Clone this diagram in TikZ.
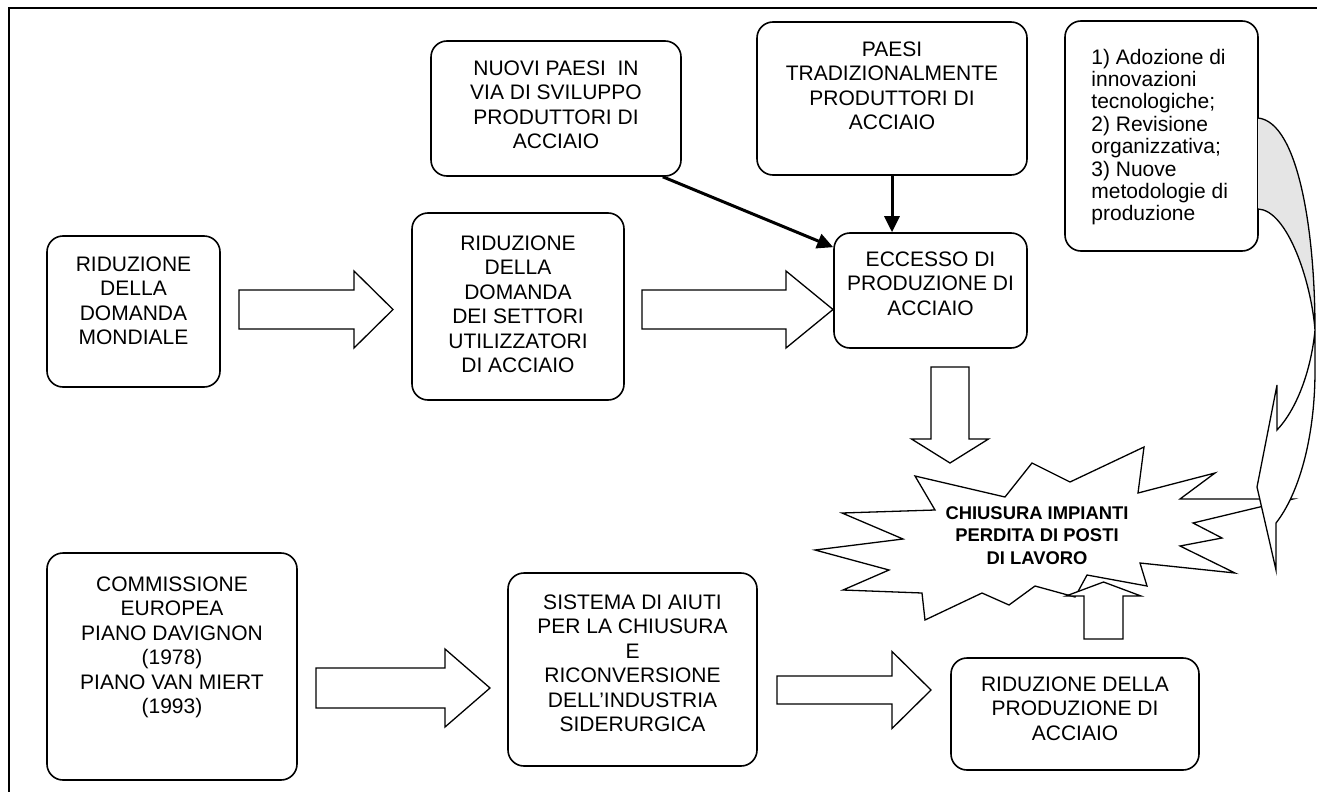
\documentclass[tikz,border=0pt]{standalone}
\usepackage{fontspec}
\setmainfont{Liberation Sans}
\usetikzlibrary{arrows.meta}
\usetikzlibrary{calc}

\tikzset{
  box/.style={draw, line width=1.6pt, rounded corners=16pt, inner sep=0pt},
  boxtext/.style={inner sep=0pt, align=center, font=\fontsize{21}{24.4}\selectfont},
  block/.style={draw, line width=1.3pt, fill=white, line join=miter},
  conn/.style={line width=3pt, -{Triangle[length=16pt,width=15pt]}},
}

% horizontal block arrow: start, head base, tip, centre y, half shaft, half head
\newcommand{\rblock}[6]{\draw[block] (#1,{#4-#5}) -- (#2,{#4-#5}) -- (#2,{#4-#6}) -- (#3,#4)
  -- (#2,{#4+#6}) -- (#2,{#4+#5}) -- (#1,{#4+#5}) -- cycle;}
% vertical block arrow: start, head base, tip, centre x, half shaft, half head
\newcommand{\vblock}[6]{\draw[block] ({#4-#5},#1) -- ({#4-#5},#2) -- ({#4-#6},#2) -- (#4,#3)
  -- ({#4+#6},#2) -- ({#4+#5},#2) -- ({#4+#5},#1) -- cycle;}

\begin{document}
\begin{tikzpicture}[x=1pt,y=-1pt]
  \useasboundingbox (0,0) rectangle (1317,792);
  \draw[line width=2pt] (9,792) -- (9,8) -- (1317,8);

  \node[box, minimum width=173pt, minimum height=151pt] (mondiale) at (133.5,311.5) {};
  \node[box, minimum width=212pt, minimum height=187pt] (settori) at (518,306.5) {};
  \node[box, minimum width=250pt, minimum height=135pt] (nuovi) at (556,108.5) {};
  \node[box, minimum width=270pt, minimum height=153pt] (tradiz) at (892,98.5) {};
  \node[box, minimum width=193pt, minimum height=115pt] (eccesso) at (930.5,290.5) {};
  \node[box, minimum width=193pt, minimum height=230pt] (misure) at (1161.5,136) {};
  \node[box, minimum width=250pt, minimum height=227pt] (commissione) at (172,666.5) {};
  \node[box, minimum width=249pt, minimum height=193pt] (aiuti) at (632.5,669.5) {};
  \node[box, minimum width=248pt, minimum height=112pt] (riduzprod) at (1075,714) {};

  \node[boxtext, anchor=north] (mondialetxt) at ($(mondiale.north)+(0,21.5)$)
    {RIDUZIONE\\DELLA\\DOMANDA\\MONDIALE};
  \node[boxtext, anchor=north] (settoritxt) at ($(settori.north)+(0,23.5)$)
    {RIDUZIONE\\DELLA\\DOMANDA\\DEI SETTORI\\UTILIZZATORI\\DI ACCIAIO};
  \node[boxtext, anchor=north] (nuovitxt) at ($(nuovi.north)+(0,20.5)$)
    {NUOVI PAESI \ IN\\VIA DI SVILUPPO\\PRODUTTORI DI\\ACCIAIO};
  \node[boxtext, anchor=north] (tradiztxt) at ($(tradiz.north)+(0,20.5)$)
    {PAESI\\TRADIZIONALMENTE\\PRODUTTORI DI\\ACCIAIO};
  \node[boxtext, anchor=north] (eccessotxt) at ($(eccesso.north)+(0,19.5)$)
    {ECCESSO DI\\PRODUZIONE DI\\ACCIAIO};
  \node[boxtext, align=left, anchor=north west, font=\fontsize{21}{22.4}\selectfont] (misuretxt)
    at ($(misure.north west)+(27,28.5)$)
    {1) Adozione di\\innovazioni\\tecnologiche;\\2) Revisione\\organizzativa;\\3) Nuove\\metodologie di\\produzione};
  \node[boxtext, anchor=north] (commissionetxt) at ($(commissione.north)+(0,24.5)$)
    {COMMISSIONE\\EUROPEA\\PIANO DAVIGNON\\(1978)\\PIANO VAN MIERT\\(1993)};
  \node[boxtext, anchor=north] (aiutitxt) at ($(aiuti.north)+(0,22.5)$)
    {SISTEMA DI AIUTI\\PER LA CHIUSURA\\E\\RICONVERSIONE\\DELL’INDUSTRIA\\SIDERURGICA};
  \node[boxtext, anchor=north] (riduzprodtxt) at ($(riduzprod.north)+(0,19.5)$)
    {RIDUZIONE DELLA\\PRODUZIONE DI\\ACCIAIO};

  \draw[conn] ([xshift=-19pt]nuovi.south east) -- ([yshift=-15pt]eccesso.north west);
  \draw[conn] (tradiz.south) -- (tradiz.south |- eccesso.north);

  \rblock{239}{354}{393}{309.5}{19.5}{38.5}
  \rblock{642}{786}{833}{309.5}{19.5}{38.5}
  \rblock{316}{445}{490}{688}{20}{39}
  \rblock{777}{892}{931}{690}{14}{38.5}

  % back of the curved arrow
  \draw[line width=1.3pt, fill=gray!20] (1258,118) .. controls (1298,122) and (1315,230) .. (1315,330)
    .. controls (1311,280) and (1287,210) .. (1258,209);

  \draw[block] (915,476) \foreach \p in {(1005,497),(1032,463),(1070,482),(1144,447),(1138,493),
    (1215,473),(1180,499),(1293,499),(1193,523),(1222,538),(1180,546),(1235,573),(1140,563),
    (1147,586),(1087,575),(1075,597),(1035,586),(1009,605),(982,593),(925,620),(922,593),
    (843,590),(889,570),(815,550),(903,539),(842,513),(935,510)} {-- \p} -- cycle;
  \node[inner sep=0pt, align=center, anchor=north, font=\fontsize{18.4}{22.5}\selectfont\bfseries]
    (chiusura) at (1037,506) {CHIUSURA IMPIANTI\\PERDITA DI POSTI\\DI LAVORO};

  \vblock{367}{439}{463}{950}{19}{38.5}
  \vblock{639}{596}{582}{1103.5}{19.5}{37.5}

  % front of the curved arrow
  \draw[block] (1315,330) -- (1315,370) .. controls (1315,440) and (1298,495) .. (1276,523)
    -- (1276,570) -- (1257,487) -- (1277,385) -- (1277,430)
    .. controls (1296,410) and (1311,372) .. (1315,330) -- cycle;
\end{tikzpicture}
\end{document}
